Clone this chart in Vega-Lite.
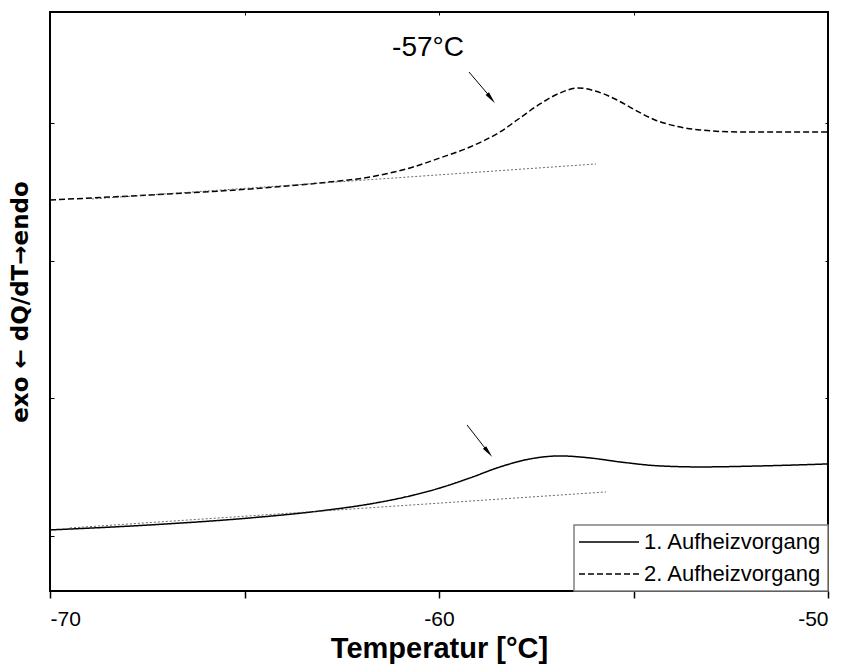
{
  "$schema": "https://vega.github.io/schema/vega-lite/v6.json",
  "width": 778,
  "height": 579,
  "autosize": {"type": "none"},
  "padding": {"left": 50, "top": 12, "right": 17, "bottom": 75},
  "background": "white",
  "config": {
    "view": {"stroke": "black", "strokeWidth": 2},
    "font": "Liberation Sans",
    "axis": {"domain": false, "grid": false, "tickColor": "black", "labelColor": "black", "titleColor": "black"}
  },
  "datasets": {
    "curves": [
      {"T": -70, "v": 3.4406, "Kurve": "2. Aufheizvorgang"},
      {"T": -67.429, "v": 3.4769, "Kurve": "2. Aufheizvorgang"},
      {"T": -64.859, "v": 3.5205, "Kurve": "2. Aufheizvorgang"},
      {"T": -63.059, "v": 3.5641, "Kurve": "2. Aufheizvorgang"},
      {"T": -61.774, "v": 3.6077, "Kurve": "2. Aufheizvorgang"},
      {"T": -60.746, "v": 3.6731, "Kurve": "2. Aufheizvorgang"},
      {"T": -59.974, "v": 3.7457, "Kurve": "2. Aufheizvorgang"},
      {"T": -59.203, "v": 3.8256, "Kurve": "2. Aufheizvorgang"},
      {"T": -58.432, "v": 3.9346, "Kurve": "2. Aufheizvorgang"},
      {"T": -57.918, "v": 4.0363, "Kurve": "2. Aufheizvorgang"},
      {"T": -57.404, "v": 4.138, "Kurve": "2. Aufheizvorgang"},
      {"T": -56.889, "v": 4.2179, "Kurve": "2. Aufheizvorgang"},
      {"T": -56.427, "v": 4.2542, "Kurve": "2. Aufheizvorgang"},
      {"T": -55.99, "v": 4.2324, "Kurve": "2. Aufheizvorgang"},
      {"T": -55.476, "v": 4.1743, "Kurve": "2. Aufheizvorgang"},
      {"T": -54.961, "v": 4.0944, "Kurve": "2. Aufheizvorgang"},
      {"T": -54.447, "v": 4.0218, "Kurve": "2. Aufheizvorgang"},
      {"T": -53.933, "v": 3.9782, "Kurve": "2. Aufheizvorgang"},
      {"T": -53.29, "v": 3.9491, "Kurve": "2. Aufheizvorgang"},
      {"T": -52.262, "v": 3.9346, "Kurve": "2. Aufheizvorgang"},
      {"T": -50, "v": 3.9346, "Kurve": "2. Aufheizvorgang"},
      {"T": -70, "v": 1.0436, "Kurve": "1. Aufheizvorgang"},
      {"T": -67.429, "v": 1.0799, "Kurve": "1. Aufheizvorgang"},
      {"T": -64.859, "v": 1.1307, "Kurve": "1. Aufheizvorgang"},
      {"T": -63.059, "v": 1.1816, "Kurve": "1. Aufheizvorgang"},
      {"T": -61.774, "v": 1.2324, "Kurve": "1. Aufheizvorgang"},
      {"T": -60.746, "v": 1.2905, "Kurve": "1. Aufheizvorgang"},
      {"T": -59.974, "v": 1.3487, "Kurve": "1. Aufheizvorgang"},
      {"T": -59.203, "v": 1.4213, "Kurve": "1. Aufheizvorgang"},
      {"T": -58.432, "v": 1.5012, "Kurve": "1. Aufheizvorgang"},
      {"T": -57.661, "v": 1.5593, "Kurve": "1. Aufheizvorgang"},
      {"T": -56.889, "v": 1.5811, "Kurve": "1. Aufheizvorgang"},
      {"T": -56.118, "v": 1.5666, "Kurve": "1. Aufheizvorgang"},
      {"T": -55.347, "v": 1.5375, "Kurve": "1. Aufheizvorgang"},
      {"T": -54.319, "v": 1.5085, "Kurve": "1. Aufheizvorgang"},
      {"T": -53.29, "v": 1.5012, "Kurve": "1. Aufheizvorgang"},
      {"T": -51.748, "v": 1.5085, "Kurve": "1. Aufheizvorgang"},
      {"T": -50, "v": 1.523, "Kurve": "1. Aufheizvorgang"}
    ],
    "baselines": [
      {"T": -69.486, "v": 1.0581, "Linie": "B1"},
      {"T": -55.707, "v": 1.3196, "Linie": "B1"},
      {"T": -68.92, "v": 3.4479, "Linie": "B2"},
      {"T": -55.964, "v": 3.7021, "Linie": "B2"}
    ],
    "arrows": [
      {"T": -59.23, "v": 4.3704, "T2": -58.66, "v2": 4.1815},
      {"T": -59.28, "v": 1.8063, "T2": -58.74, "v2": 1.6102}
    ],
    "heads": [
      {"T": -58.66, "v": 4.1786},
      {"T": -58.73, "v": 1.608}
    ],
    "labels": [
      {"T": -60.283, "v": 4.5447, "text": "-57°C"}
    ]
  },
  "resolve": {"axis": {"x": "independent", "y": "independent"}},
  "layer": [
    {
      "data": {"name": "curves"},
      "mark": {"type": "line", "interpolate": "monotone", "strokeWidth": 1.5, "color": "black"},
      "encoding": {
        "x": {"field": "T", "type": "quantitative", "scale": {"domain": [-70, -50], "nice": false, "zero": false},
          "axis": {"orient": "bottom", "values": [-70, -65, -60, -55, -50], "labelExpr": "datum.value % 10 == 0 ? '' + datum.value : ''",
            "tickSize": 7, "tickWidth": 1.5, "labelFontSize": 21, "labelPadding": 10, "labelFont": "Liberation Sans",
            "title": "Temperatur [°C]", "titleFontSize": 29, "titleFontWeight": "bold", "titlePadding": 5, "titleFont": "Liberation Sans"}},
        "y": {"field": "v", "type": "quantitative", "scale": {"domain": [0.6, 4.806], "nice": false, "zero": false},
          "axis": {"orient": "left", "values": [1, 2, 3, 4], "labels": false, "tickSize": -4, "tickWidth": 1,
            "title": "exo ← dQ/dT→endo", "titleFontSize": 23, "titleFontWeight": "bold", "titlePadding": 17, "titleFont": "DejaVu Sans"}},
        "strokeDash": {"field": "Kurve", "type": "nominal",
          "scale": {"domain": ["1. Aufheizvorgang", "2. Aufheizvorgang"], "range": [[1, 0], [6, 3]]},
          "legend": {"orient": "bottom-right", "offset": 0, "title": null, "symbolType": "M-3,0L3,0", "symbolSize": 400,
            "symbolStrokeWidth": 1.5, "symbolStrokeColor": "black", "symbolFillColor": "transparent", "symbolOffset": 18,
            "labelFontSize": 22, "labelFont": "Liberation Sans", "labelLimit": 0,
            "labelColor": "black", "labelOffset": 24, "rowPadding": 10, "padding": 6, "strokeColor": "#808080", "fillColor": "white",
            "encode": {"legend": {"update": {"strokeWidth": {"value": 1.5}}}}}}
      }
    },
    {
      "data": {"name": "baselines"},
      "mark": {"type": "line", "strokeWidth": 0.8, "color": "#444", "strokeDash": [2, 2]},
      "encoding": {
        "x": {"field": "T", "type": "quantitative", "axis": {"orient": "top", "values": [-70, -65, -60, -55, -50], "labels": false, "tickSize": -3, "title": null}},
        "y": {"field": "v", "type": "quantitative", "axis": {"orient": "right", "values": [1, 2, 3, 4], "labels": false, "tickSize": -3, "title": null}},
        "detail": {"field": "Linie", "type": "nominal"}
      }
    },
    {
      "data": {"name": "arrows"},
      "mark": {"type": "rule", "strokeWidth": 1, "color": "black"},
      "encoding": {
        "x": {"field": "T", "type": "quantitative", "axis": null},
        "y": {"field": "v", "type": "quantitative", "axis": null},
        "x2": {"field": "T2"},
        "y2": {"field": "v2"}
      }
    },
    {
      "data": {"name": "heads"},
      "mark": {"type": "point", "shape": "M0,-1L0.35,1L-0.35,1Z", "size": 150, "angle": 141, "filled": true, "color": "black", "opacity": 1},
      "encoding": {
        "x": {"field": "T", "type": "quantitative", "axis": null},
        "y": {"field": "v", "type": "quantitative", "axis": null}
      }
    },
    {
      "data": {"name": "labels"},
      "mark": {"type": "text", "fontSize": 28, "font": "Liberation Sans", "color": "black", "align": "center", "baseline": "middle"},
      "encoding": {
        "x": {"field": "T", "type": "quantitative", "axis": null},
        "y": {"field": "v", "type": "quantitative", "axis": null},
        "text": {"field": "text"}
      }
    }
  ]
}
